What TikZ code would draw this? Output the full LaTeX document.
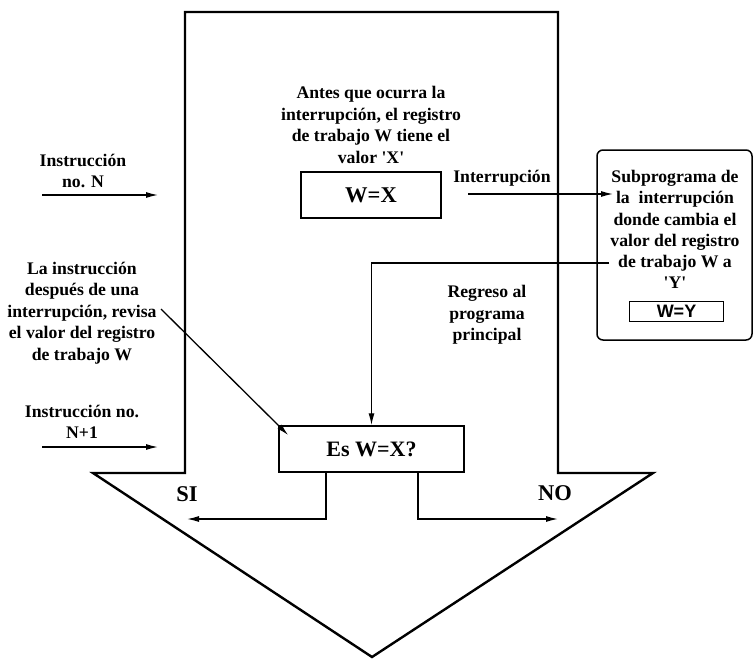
\documentclass[tikz,border=0pt]{standalone}
\usepackage{fontspec}
\setmainfont{Liberation Serif}
\newfontfamily\helvfont{Liberation Sans}
\usetikzlibrary{arrows.meta}
\begin{document}
\begin{tikzpicture}[x=1pt,y=-1pt,
  txt/.style={font=\bfseries\fontsize{17.7}{21.5}\selectfont, align=center, inner sep=0pt},
  bigtxt/.style={font=\bfseries\fontsize{22.5}{26}\selectfont, inner sep=0pt},
  box/.style={draw, line width=1.5pt, inner sep=0pt},
  conn/.style={line width=1.3pt, -{Latex[length=12pt,width=6pt]}},
  plain/.style={line width=1.3pt}]
\useasboundingbox (0,0) rectangle (754,658);

% large downward arrow framing the main program
\draw[line width=2.4pt, line join=miter]
  (185,12) -- (558,12) -- (558,473) -- (653,473) -- (372,657)
  -- (93,473) -- (185,473) -- cycle;

% main program contents
\node[txt] (antes) at (371,125) {Antes que ocurra la\\interrupción, el registro\\de trabajo W tiene el\\valor \textquotesingle X\textquotesingle};
\node[box, minimum width=140pt, minimum height=46pt, bigtxt] (wx) at (371,195) {W=X};
\node[txt] (intlab) at (502,178) {Interrupción};
\node[txt] (regreso) at (487,315) {Regreso al\\programa\\principal};
\node[box, minimum width=185pt, minimum height=46pt, font=\bfseries\fontsize{22}{26}\selectfont] (es) at (371.5,449) {Es W=X?};
\node[bigtxt] (si) at (187,494) {SI};
\node[bigtxt] (no) at (555,493) {NO};

% interrupt subroutine
\node[draw, rounded corners=6pt, line width=1.5pt, minimum width=155pt, minimum height=190pt] (sub) at (674.5,245) {};
\node[txt, font=\bfseries\fontsize{17.7}{21.2}\selectfont] (subtxt) at (675,229.5)
  {Subprograma de\\la\ \ interrupción\\donde cambia el\\valor del registro\\de trabajo W a\\\textquotesingle Y\textquotesingle};
\node[box, line width=1.4pt, minimum width=94pt, minimum height=20pt, font=\helvfont\bfseries\fontsize{18}{20}\selectfont] (wy) at (676.5,311.5) {W=Y};

% left-hand notes
\node[txt] (instn) at (83,171) {Instrucción\\no. N};
\node[txt] (revisa) at (82,313) {La instrucción\\después de una\\interrupción, revisa\\el valor del registro\\de trabajo W};
\node[txt] (instn1) at (82,422) {Instrucción no.\\N+1};

% connectors
\coordinate (nstart) at (42,195);
\coordinate (nend) at (158,195);
\draw[conn] (nstart) -- (nend);
\coordinate (n1start) at (42,447);
\coordinate (n1end) at (158,447);
\draw[conn] (n1start) -- (n1end);

\coordinate (pstart) at (161,309);
\draw[conn, shorten >=-14pt] (pstart) -- (es.north west);

\coordinate (intstart) at (468,194);
\coordinate (intend) at (613,194);
\draw[conn] (intstart) -- (intend);

\coordinate (retstart) at (609,263);
\draw[conn] (retstart) -- (retstart -| es.north) -- (es.north);

\coordinate (siend) at (187,519);
\coordinate (noend) at (558,519);
\draw[conn] ([xshift=-45.5pt]es.south) |- (siend);
\draw[conn] ([xshift=46.5pt]es.south) |- (noend);
\end{tikzpicture}
\end{document}
